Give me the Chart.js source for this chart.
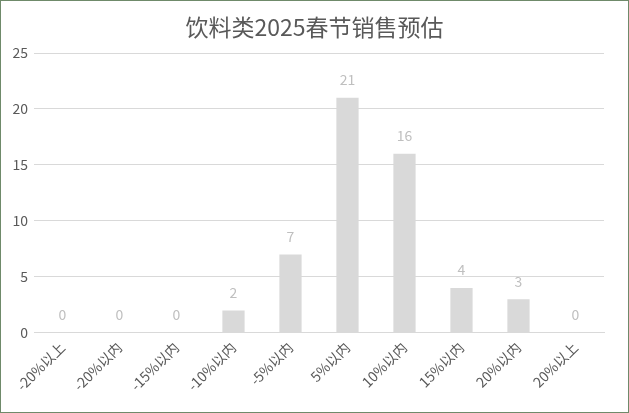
<!DOCTYPE html>
<html>
<head>
<meta charset="utf-8">
<script src="https://cdn.jsdelivr.net/npm/chart.js@4.4.1/dist/chart.umd.min.js"></script>
<style>
    html, body { margin: 0; padding: 0; background: #fff; }
    #wrap { width: 627px; height: 411px; border: 1px solid #6f8a6a; position: relative; }
</style>
</head>
<body>
<div id="wrap"><canvas id="salesChart"></canvas></div>
<script>
const chartTitle = "饮料类2025春节销售预估";
const categories = ["-20%以上", "-20%以内", "-15%以内", "-10%以内", "-5%以内", "5%以内", "10%以内", "15%以内", "20%以内", "20%以上"];
const counts = [0, 0, 0, 2, 7, 21, 16, 4, 3, 0];
const yTicks = [0, 5, 10, 15, 20, 25];

const fontFamily = "'Noto Sans CJK SC', 'Liberation Sans', sans-serif";

// value labels drawn above each bar
const valueLabels = {
    id: "valueLabels",
    afterDatasetsDraw(chart) {
        const ctx = chart.ctx;
        const meta = chart.getDatasetMeta(0);
        ctx.save();
        ctx.fillStyle = "#bfbfbf";
        ctx.font = "14px " + fontFamily;
        ctx.textAlign = "center";
        ctx.textBaseline = "middle";
        meta.data.forEach((bar, i) => {
            ctx.fillText(String(counts[i]), bar.x, bar.y - 18);
        });
        ctx.restore();
    }
};

// title centred on the whole canvas (the built-in one centres on the padded box)
const centredTitle = {
    id: "centredTitle",
    afterDraw(chart) {
        const ctx = chart.ctx;
        ctx.save();
        ctx.fillStyle = "#595959";
        ctx.font = "23px " + fontFamily;
        ctx.textAlign = "center";
        ctx.textBaseline = "middle";
        ctx.fillText(chartTitle, chart.width / 2, 26);
        ctx.restore();
    }
};

new Chart(document.getElementById("salesChart"), {
    type: "bar",
    data: {
        labels: categories,
        datasets: [{
            data: counts,
            backgroundColor: "#d9d9d9",
            categoryPercentage: 1,
            barPercentage: 0.39
        }]
    },
    options: {
        responsive: true,
        maintainAspectRatio: false,
        animation: false,
        layout: { padding: { left: 4, right: 24, top: 52, bottom: 12 } },
        plugins: {
            legend: { display: false },
            tooltip: { enabled: false },
            title: { display: false }
        },
        scales: {
            x: {
                grid: { display: false, drawTicks: false },
                border: { color: "#d9d9d9" },
                ticks: {
                    color: "#595959",
                    font: { family: fontFamily, size: 14 },
                    minRotation: 45,
                    maxRotation: 45,
                    padding: 6
                }
            },
            y: {
                min: yTicks[0],
                max: yTicks[yTicks.length - 1],
                afterBuildTicks(axis) {
                    axis.ticks = yTicks.map(v => ({ value: v }));
                },
                afterFit(axis) { axis.width = 29; },
                grid: { color: "#d9d9d9", drawTicks: false },
                border: { display: false },
                ticks: {
                    color: "#595959",
                    font: { family: fontFamily, size: 14 },
                    padding: 6
                }
            }
        }
    },
    plugins: [valueLabels, centredTitle]
});
</script>
</body>
</html>
